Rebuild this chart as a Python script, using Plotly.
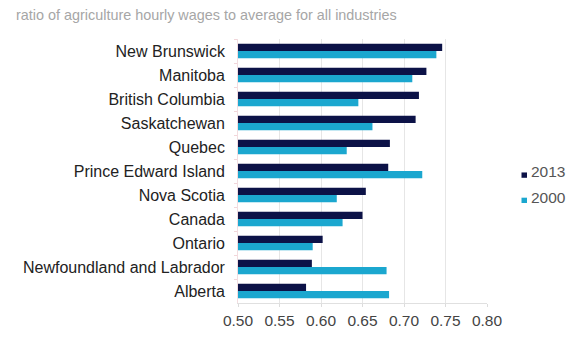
import plotly.graph_objects as go

provinces = ["New Brunswick", "Manitoba", "British Columbia", "Saskatchewan", "Quebec",
             "Prince Edward Island", "Nova Scotia", "Canada", "Ontario",
             "Newfoundland and Labrador", "Alberta"]
v2013 = [0.746, 0.727, 0.718, 0.714, 0.683, 0.681, 0.654, 0.650, 0.602, 0.589, 0.582]
v2000 = [0.739, 0.710, 0.645, 0.662, 0.631, 0.722, 0.619, 0.626, 0.590, 0.679, 0.682]
tick_vals = [0.50, 0.55, 0.60, 0.65, 0.70, 0.75, 0.80]
tick_text = ["0.50", "0.55", "0.60", "0.65", "0.70", "0.75", "0.80"]
series_names = ["2013", "2000"]
series_colors = ["#0c1247", "#1ba7cf"]
title_text = "ratio of agriculture hourly wages to average for all industries"

L, R, T, B = 238, 94, 39, 30
W, H = 581, 341
pw, ph = W - L - R, H - T - B

def px_x(x):
    return (x - L) / pw

def px_y(y):
    return 1 - (y - T) / ph

fig = go.Figure()
for name, vals, col in zip(series_names, [v2013, v2000], series_colors):
    fig.add_trace(go.Bar(y=provinces, x=vals, name=name, orientation="h",
                         marker=dict(color=col, line=dict(width=0)), showlegend=False))

annotations = [dict(text=title_text, xref="paper", yref="paper", x=px_x(14), y=px_y(14),
                    xanchor="left", yanchor="middle", showarrow=False,
                    font=dict(size=14.4, color="#a6a6a6"))]
shapes = []
for i, (name, col) in enumerate(zip(series_names, series_colors)):
    yc = 176 + i * 26
    annotations.append(dict(text=name, xref="paper", yref="paper", x=px_x(529), y=px_y(yc),
                            xanchor="left", yanchor="middle", showarrow=False,
                            font=dict(size=15.5, color="#555")))
    shapes.append(dict(type="rect", xref="paper", yref="paper",
                       x0=px_x(521.5), x1=px_x(527), y0=px_y(yc + 0.5), y1=px_y(yc + 6),
                       fillcolor=col, line=dict(width=0)))

fig.update_layout(
    width=W, height=H,
    margin=dict(l=L, r=R, t=T, b=B),
    paper_bgcolor="white", plot_bgcolor="white",
    barmode="group", bargap=0.4, bargroupgap=0,
    font=dict(family="Liberation Sans, Arial, sans-serif", color="#222"),
    showlegend=False,
    annotations=annotations,
    shapes=shapes,
)
fig.update_xaxes(range=[0.5, 0.8], tickvals=tick_vals, ticktext=tick_text,
                 showgrid=True, gridcolor="#e6e6e6", gridwidth=1,
                 zeroline=False, showline=True, linecolor="#e0e0e0",
                 tickfont=dict(size=15.5, color="#444"), ticks="outside",
                 ticklen=3, tickcolor="#dcdcdc")
fig.update_yaxes(autorange="reversed", showline=True, linecolor="#f2dde0",
                 tickfont=dict(size=16, color="#222"), ticks="outside",
                 tickson="boundaries", ticklen=3, tickcolor="#f2d6da",
                 ticksuffix="  ")

fig.write_html("out.html")
